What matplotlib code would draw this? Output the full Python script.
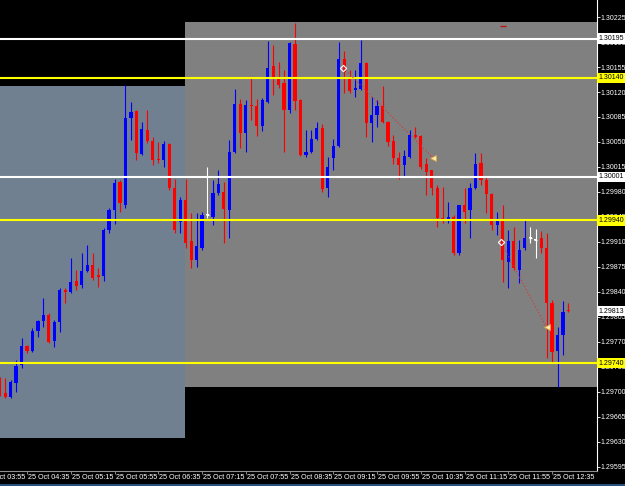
import numpy as np
import matplotlib
matplotlib.use('Agg')
import matplotlib.pyplot as plt
from matplotlib.patches import Rectangle
from matplotlib.lines import Line2D

plt.rcParams['font.family'] = ['Liberation Sans', 'DejaVu Sans']

# M5 bars, 25 Oct, bar 0 = 04:10
opens = [1.29710, 1.29698, 1.29692, 1.29712, 1.29738, 1.29764, 1.29757, 1.29785, 1.29799, 1.29808,
         1.29771, 1.29797, 1.29842, 1.29839, 1.29855, 1.29849, 1.29869, 1.29878, 1.29863, 1.29862,
         1.29926, 1.29955, 1.29994, 1.29961, 1.30084, 1.30094, 1.30033, 1.30067, 1.30052, 1.30025,
         1.30024, 1.30047, 1.29986, 1.29938, 1.29968, 1.29911, 1.29885, 1.29902, 1.29947, 1.29945,
         1.29979, 1.29980, 1.29955, 1.30036, 1.30103, 1.30063, 1.30102, 1.30101, 1.30073, 1.30106,
         1.30157, 1.30141, 1.30133, 1.30095, 1.30187, 1.30109, 1.30032, 1.30036, 1.30054, 1.30070,
         1.29986, 1.30028, 1.30045, 1.30166, 1.30141, 1.30123, 1.30124, 1.30161, 1.30077, 1.30088,
         1.30101, 1.30078, 1.30052, 1.30028, 1.30017, 1.30029, 1.30060, 1.30059, 1.30019, 1.30010,
         1.29986, 1.29944, 1.29942, 1.29945, 1.29895, 1.29961, 1.29954, 1.29986, 1.30021, 1.29996,
         1.29977, 1.29933, 1.29941, 1.29881, 1.29911, 1.29871, 1.29901, 1.29915, 1.29913, 1.29916,
         1.29902, 1.29824, 1.29757, 1.29779, 1.29814]
highs = [1.29720, 1.29719, 1.29716, 1.29744, 1.29775, 1.29766, 1.29789, 1.29800, 1.29831, 1.29810,
         1.29800, 1.29845, 1.29845, 1.29888, 1.29870, 1.29894, 1.29906, 1.29894, 1.29873, 1.29929,
         1.29958, 1.29998, 1.29997, 1.30130, 1.30106, 1.30095, 1.30078, 1.30095, 1.30057, 1.30050,
         1.30052, 1.30049, 1.29998, 1.29973, 1.29998, 1.29951, 1.29951, 1.29952, 1.30015, 1.29997,
         1.30011, 1.29994, 1.30053, 1.30124, 1.30110, 1.30109, 1.30141, 1.30110, 1.30112, 1.30192,
         1.30186, 1.30162, 1.30151, 1.30190, 1.30217, 1.30110, 1.30067, 1.30067, 1.30078, 1.30075,
         1.30029, 1.30054, 1.30190, 1.30178, 1.30151, 1.30151, 1.30193, 1.30162, 1.30113, 1.30109,
         1.30129, 1.30080, 1.30060, 1.30036, 1.30039, 1.30067, 1.30071, 1.30060, 1.30028, 1.30011,
         1.29989, 1.29987, 1.29966, 1.29947, 1.29962, 1.29986, 1.29993, 1.30035, 1.30035, 1.30001,
         1.29979, 1.29952, 1.29961, 1.29926, 1.29931, 1.29912, 1.29941, 1.29931, 1.29928, 1.29925,
         1.29923, 1.29828, 1.29790, 1.29827, 1.29824]
lows = [1.29694, 1.29691, 1.29691, 1.29699, 1.29733, 1.29754, 1.29755, 1.29776, 1.29790, 1.29768,
        1.29762, 1.29783, 1.29824, 1.29838, 1.29842, 1.29845, 1.29867, 1.29857, 1.29846, 1.29855,
        1.29922, 1.29935, 1.29952, 1.29958, 1.30053, 1.30024, 1.30032, 1.30049, 1.30018, 1.30021,
        1.30015, 1.29983, 1.29922, 1.29923, 1.29901, 1.29873, 1.29874, 1.29898, 1.29944, 1.29934,
        1.29976, 1.29908, 1.29916, 1.30035, 1.30042, 1.30036, 1.30081, 1.30059, 1.30066, 1.30105,
        1.30116, 1.30126, 1.30036, 1.30091, 1.30095, 1.30031, 1.30029, 1.30035, 1.30053, 1.29980,
        1.29973, 1.30011, 1.30043, 1.30119, 1.30119, 1.30113, 1.30123, 1.30057, 1.30050, 1.30071,
        1.30077, 1.30045, 1.30019, 1.29998, 1.30001, 1.30028, 1.30056, 1.30012, 1.29976, 1.29976,
        1.29931, 1.29937, 1.29937, 1.29892, 1.29892, 1.29937, 1.29916, 1.29984, 1.29990, 1.29951,
        1.29926, 1.29919, 1.29853, 1.29845, 1.29870, 1.29852, 1.29898, 1.29908, 1.29888, 1.29894,
        1.29747, 1.29740, 1.29706, 1.29751, 1.29812]
closes = [1.29698, 1.29692, 1.29713, 1.29736, 1.29764, 1.29757, 1.29785, 1.29799, 1.29808, 1.29769,
          1.29797, 1.29842, 1.29839, 1.29853, 1.29848, 1.29869, 1.29878, 1.29859, 1.29860, 1.29926,
          1.29955, 1.29993, 1.29965, 1.30084, 1.30092, 1.30035, 1.30068, 1.30052, 1.30024, 1.30024,
          1.30047, 1.29986, 1.29926, 1.29968, 1.29909, 1.29885, 1.29904, 1.29947, 1.29947, 1.29979,
          1.29991, 1.29956, 1.30036, 1.30103, 1.30063, 1.30102, 1.30101, 1.30073, 1.30109, 1.30154,
          1.30141, 1.30130, 1.30095, 1.30189, 1.30108, 1.30032, 1.30036, 1.30054, 1.30070, 1.29984,
          1.30015, 1.30045, 1.30166, 1.30148, 1.30122, 1.30126, 1.30161, 1.30077, 1.30088, 1.30101,
          1.30078, 1.30050, 1.30028, 1.30017, 1.30031, 1.30060, 1.30057, 1.30015, 1.30008, 1.29986,
          1.29944, 1.29942, 1.29945, 1.29895, 1.29961, 1.29952, 1.29986, 1.30019, 1.29996, 1.29977,
          1.29934, 1.29941, 1.29884, 1.29911, 1.29873, 1.29899, 1.29915, 1.29915, 1.29913, 1.29902,
          1.29824, 1.29755, 1.29779, 1.29812, 1.29813]

# time axis labels (bar index of each tick)
tick_bars = [-3, 5, 13, 21, 29, 37, 45, 53, 61, 69, 77, 85, 93, 101]
tick_times = ['03:55', '04:35', '05:15', '05:55', '06:35', '07:15', '07:55',
              '08:35', '09:15', '09:55', '10:35', '11:15', '11:55', '12:35']

# price scale
price_ticks = [1.29595, 1.29630, 1.29665, 1.29700, 1.29735, 1.29770, 1.29805, 1.29840,
               1.29875, 1.29910, 1.29945, 1.29980, 1.30015, 1.30050, 1.30085, 1.30120,
               1.30155, 1.30190, 1.30225]

# horizontal levels
levels = [1.30195, 1.30140, 1.30001, 1.29940, 1.29740]
level_colors = ['white', 'yellow', 'white', 'yellow', 'yellow']
bid = 1.29813

# rectangles: (start bar, end bar, low, high, colour)
rects = [(-10, 33.9, 1.29635, 1.30129, '#708090'),
         (33.9, 130, 1.29706, 1.30218, '#808080')]

# closed sell trades
open_x = [62.8, 91.6]
open_y = [1.30154, 1.29910]
close_x = [79.2, 100.0]
close_y = [1.30028, 1.29790]

FS = 5.0

fig = plt.figure(figsize=(6.25, 4.86), dpi=100, facecolor='black')
ax = fig.add_axes([0, 15 / 486, 597 / 625, 471 / 486])
ax.set_facecolor('black')
ax.set_xlim(0.06, 109.22)
ax.set_ylim(1.295887, 1.30249)

for x0, x1, lo, hi, c in rects:
    ax.add_patch(Rectangle((x0, lo), x1 - x0, hi - lo, facecolor=c, edgecolor='none', zorder=0))

o = np.array(opens)
h = np.array(highs)
l = np.array(lows)
c = np.array(closes)
x = np.arange(len(o))
cols = np.where(c > o, '#0000ff', np.where(c < o, '#ff0000', 'white'))

ax.vlines(x, l, h, colors=cols, lw=0.8, zorder=2)
body = np.maximum(np.abs(c - o), 1.4e-5)
ax.bar(x, body, bottom=np.minimum(o, c), width=0.58, color=cols, lw=0, zorder=3)
doji = c == o
ax.hlines(o[doji], x[doji] - 0.3, x[doji] + 0.3, colors='white', lw=0.8, zorder=3)

for lv, lc in zip(levels, level_colors):
    ax.axhline(lv, color=lc, lw=1.5, zorder=4)

for xo, yo, xc, yc in zip(open_x, open_y, close_x, close_y):
    ax.plot([xo, xc], [yo, yc], color='#e03030', lw=0.8, ls=(0, (1, 2)), zorder=5)
ax.plot(open_x, open_y, 'D', ms=3.2, mfc='none', mec='white', mew=0.8, zorder=6)
ax.plot(close_x, close_y, '<', ms=4, mfc='#fff0b0', mec='#e0a040', mew=0.6, zorder=6)
ax.plot([92], [1.30212], '_', ms=4, mew=1, color='#c01010', zorder=6)

# axes look
for s in ['top', 'left']:
    ax.spines[s].set_visible(False)
ax.spines['right'].set_color('white')
ax.spines['right'].set_linewidth(0.8)
ax.spines['bottom'].set_color('#909090')
ax.spines['bottom'].set_linewidth(0.8)

ax.yaxis.tick_right()
ax.set_yticks(price_ticks)
ax.set_yticklabels(['%.5f' % p for p in price_ticks])
ax.tick_params(axis='y', colors='white', labelsize=FS, length=2, width=0.6, pad=0.8)

ax.set_xticks(tick_bars[1:])
ax.set_xticklabels([])
ax.tick_params(axis='x', colors='#a0a0a0', length=2, width=0.6)
for tb, tt in zip(tick_bars, tick_times):
    ax.annotate('25 Oct ' + tt, xy=(tb, 0), xycoords=('data', 'axes fraction'),
                xytext=(0.8, -2.2), textcoords='offset points', ha='left', va='top',
                fontsize=FS + 0.2, color='white', annotation_clip=False)

# highlighted price labels
boxes = [(1.30195, 'white'), (1.30140, 'yellow'), (1.30001, 'white'),
         (1.29940, 'yellow'), (bid, 'white'), (1.29740, 'yellow')]
for p, bc in boxes:
    ax.text(1.003, p, '%.5f' % p, transform=ax.get_yaxis_transform(), ha='left', va='center',
            fontsize=FS, color='black', clip_on=False, zorder=10,
            bbox=dict(boxstyle='square,pad=0.25', fc=bc, ec='none'))

fig.add_artist(Line2D([0, 1], [1.5 / 486, 1.5 / 486], transform=fig.transFigure,
                      color='#2f5f9a', lw=1.2))

fig.savefig('out.png', dpi=100, facecolor='black')
